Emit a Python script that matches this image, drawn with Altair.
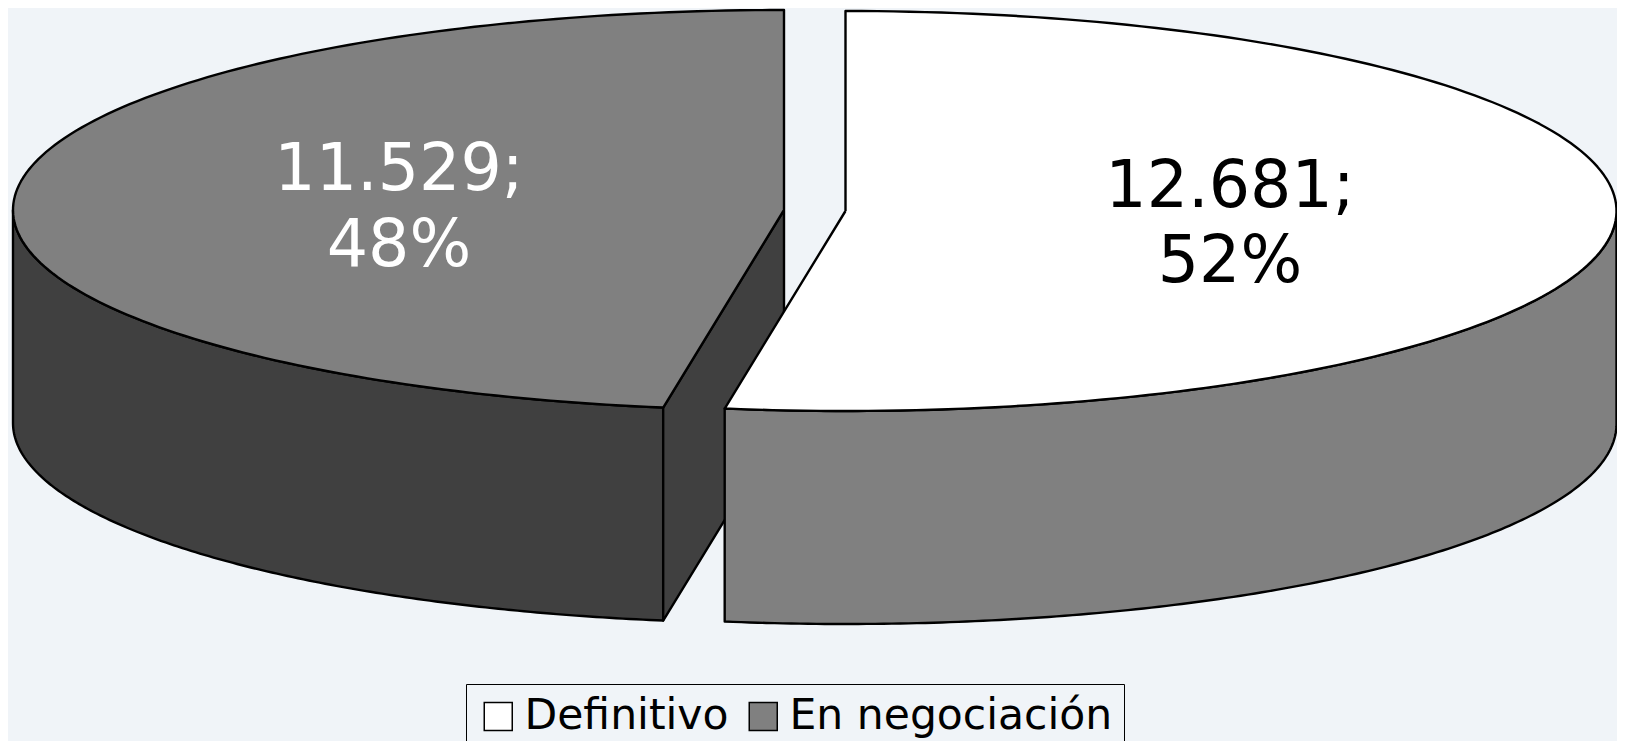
import numpy as np
import pandas as pd
import altair as alt

# Values shown on the chart
categories = ["Definitivo", "En negociación"]
values = [12681, 11529]
label_lines = [["12.681;", "52%"], ["11.529;", "48%"]]
top_colors = ["#ffffff", "#808080"]
wall_colors = ["#808080", "#404040"]
background = "#f0f4f8"

# The page margin is 8px: the scales are set so a unit equals one pixel of the window
M = 8
W, H = 1617, 741
font = "DejaVu Sans"

# Pie geometry (window pixel units)
RX, RY, DEPTH = 771, 200, 213
cxR, cyR = 845.5, 211
cxL, cyL = 784, 210
split = 360 * values[0] / sum(values) + 0.45


def arc(cx, cy, a0, a1, n=160, dy=0):
    t = np.radians(np.linspace(a0, a1, n))
    return list(cx + RX * np.sin(t)), list(cy + dy - RY * np.cos(t))


def point(cx, cy, a, dy=0):
    t = np.radians(a)
    return cx + RX * np.sin(t), cy + dy - RY * np.cos(t)


def closed(xs, ys):
    return xs + [xs[0]], ys + [ys[0]]


def wall(cx, cy, a0, a1):
    x1, y1 = arc(cx, cy, a0, a1)
    x2, y2 = arc(cx, cy, a1, a0, dy=DEPTH)
    return closed(x1 + x2, y1 + y2)


def top(cx, cy, a0, a1):
    x1, y1 = arc(cx, cy, a0, a1)
    return closed([cx] + x1, [cy] + y1)


def cut(cx, cy, a):
    px, py = point(cx, cy, a)
    return closed([cx, px, px, cx], [cy, py, py + DEPTH, cy + DEPTH])


x_scale = alt.Scale(domain=[M, W], nice=False, zero=False)
y_scale = alt.Scale(domain=[H, M], nice=False, zero=False)


def face(xy, fill):
    xs, ys = xy
    df = pd.DataFrame({"x": xs, "y": ys, "i": range(len(xs))})
    return alt.Chart(df).mark_line(
        fill=fill, stroke="#000000", strokeWidth=2.4, strokeJoin="round", clip=False
    ).encode(
        x=alt.X("x:Q", scale=x_scale, axis=None),
        y=alt.Y("y:Q", scale=y_scale, axis=None),
        order="i:Q",
    )


layers = [
    face(wall(cxL, cyL, split, 270), wall_colors[1]),
    face(cut(cxL, cyL, split), wall_colors[1]),
    face(top(cxL, cyL, split, 360), top_colors[1]),
    face(wall(cxR, cyR, 90, split), wall_colors[0]),
    face(top(cxR, cyR, 0, split), top_colors[0]),
]

# Data labels
label_rows = pd.DataFrame({
    "x": [1230, 1230, 399, 399],
    "y": [207, 282, 190, 266],
    "t": label_lines[0] + label_lines[1],
    "c": ["#000000", "#000000", "#ffffff", "#ffffff"],
})
labels = alt.Chart(label_rows).mark_text(
    font=font, fontSize=65, align="center", baseline="alphabetic"
).encode(
    x=alt.X("x:Q", scale=x_scale, axis=None),
    y=alt.Y("y:Q", scale=y_scale, axis=None),
    text="t:N",
    color=alt.Color("c:N", scale=None, legend=None),
)

# Legend
legend_df = pd.DataFrame({"cat": categories, "x": [M, M], "y": [M, M]})
legend_layer = alt.Chart(legend_df).mark_point(
    shape="square", filled=True, size=0, opacity=1
).encode(
    x=alt.X("x:Q", scale=x_scale, axis=None),
    y=alt.Y("y:Q", scale=y_scale, axis=None),
    fill=alt.Fill(
        "cat:N",
        scale=alt.Scale(domain=categories, range=top_colors),
        legend=alt.Legend(
            title=None,
            orient="none",
            legendX=466 - M,
            legendY=684 - M,
            direction="horizontal",
            columns=2,
            strokeColor="#000000",
            fillColor=background,
            padding=11,
            symbolType="square",
            symbolSize=784,
            symbolStrokeColor="#000000",
            symbolStrokeWidth=1.5,
            labelFont=font,
            labelFontSize=42.5,
            labelColor="#000000",
            labelOffset=5,
            columnPadding=13,
            labelLimit=500,
        ),
    ),
)

chart = alt.layer(*layers, labels, legend_layer).properties(
    width=W - M,
    height=H - M,
    padding=0,
    background=background,
    autosize=alt.AutoSizeParams(type="none"),
).configure_view(stroke=None)

chart.save("out.html", embed_options={"renderer": "svg", "actions": False})
